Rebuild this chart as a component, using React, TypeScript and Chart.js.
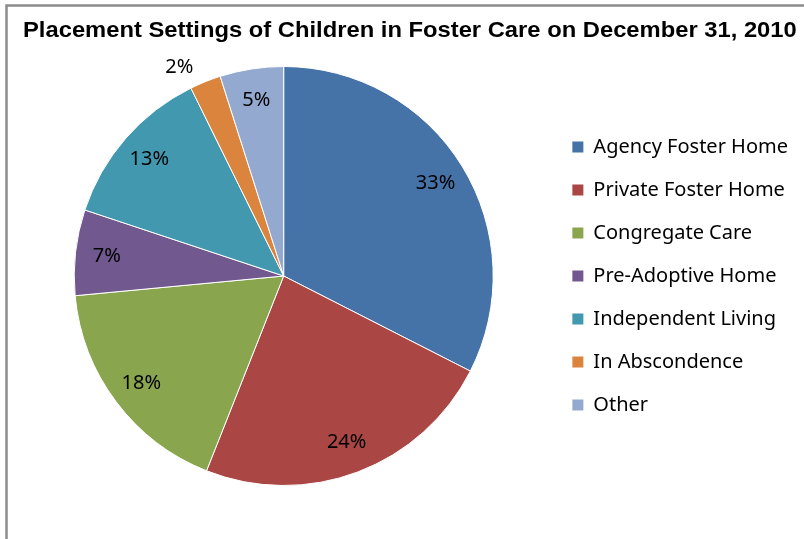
import React, { useEffect, useRef } from "react";
import { Chart, registerables, PieController } from "chart.js";

Chart.register(...registerables);

const TITLE = "Placement Settings of Children in Foster Care on December 31, 2010";
const categories = [
  "Agency Foster Home",
  "Private Foster Home",
  "Congregate Care",
  "Pre-Adoptive Home",
  "Independent Living",
  "In Abscondence",
  "Other",
];
const shares = [32.5, 23.5, 17.5, 6.6, 12.6, 2.4, 4.9];
const shareLabels = ["33%", "24%", "18%", "7%", "13%", "2%", "5%"];
const colors = ["#4572A7", "#AA4643", "#89A54E", "#71588F", "#4198AF", "#DB843D", "#93A9CF"];

const FONT = "'Noto Sans', 'Open Sans', sans-serif";

const frameAndTitle = {
  id: "frameAndTitle",
  beforeDraw(chart: any) {
    const ctx = chart.ctx;
    ctx.save();
    ctx.fillStyle = "#ffffff";
    ctx.fillRect(0, 0, chart.width, chart.height);
    ctx.strokeStyle = "#8c8c8c";
    ctx.lineWidth = 2.5;
    ctx.strokeRect(6.5, 5.5, 1200, 1200);
    ctx.restore();
  },
  afterDraw(chart: any) {
    const ctx = chart.ctx;
    ctx.save();
    ctx.font = "bold 22px 'Liberation Sans', Arial, sans-serif";
    ctx.fillStyle = "#000000";
    ctx.textBaseline = "alphabetic";
    ctx.textAlign = "left";
    ctx.translate(23, 37);
    ctx.scale(1.08, 1);
    ctx.fillText(TITLE, 0, 0);
    ctx.restore();
  },
};

const sliceLabels = {
  id: "sliceLabels",
  afterDatasetsDraw(chart: any) {
    const ctx = chart.ctx;
    const meta = chart.getDatasetMeta(0);
    ctx.save();
    ctx.font = `20px ${FONT}`;
    ctx.fillStyle = "#000000";
    meta.data.forEach((arc: any, i: number) => {
      const p = arc.getProps(["x", "y", "startAngle", "endAngle", "outerRadius"], true);
      const mid = (p.startAngle + p.endAngle) / 2;
      const value = shares[i];
      if (value < 3) {
        const r = p.outerRadius + 16;
        const x = p.x + Math.cos(mid) * r - 6;
        const y = p.y + Math.sin(mid) * r;
        ctx.textAlign = x < p.x ? "right" : "left";
        ctx.textBaseline = "middle";
        ctx.fillText(shareLabels[i], x, y);
      } else {
        const r = p.outerRadius * 0.85;
        ctx.textAlign = "center";
        ctx.textBaseline = "middle";
        ctx.fillText(shareLabels[i], p.x + Math.cos(mid) * r, p.y + Math.sin(mid) * r);
      }
    });
    ctx.restore();
  },
};

export default function App() {
  const ref = useRef<HTMLCanvasElement | null>(null);

  useEffect(() => {
    if (!ref.current) return;
    const baseGen = (PieController as any).overrides.plugins.legend.labels.generateLabels;
    const chart = new Chart(ref.current, {
      type: "pie",
      data: {
        labels: categories,
        datasets: [
          {
            data: shares,
            backgroundColor: colors,
            borderColor: "#ffffff",
            borderWidth: 1,
          },
        ],
      },
      options: {
        responsive: false,
        animation: false,
        layout: { padding: { top: 66, bottom: 53, left: 18, right: 6 } },
        plugins: {
          title: { display: false },
          tooltip: { enabled: false },
          legend: {
            position: "right",
            labels: {
              boxWidth: 11,
              boxHeight: 11,
              padding: 23,
              color: "#000000",
              font: { family: FONT, size: 20 },
              generateLabels(c: any) {
                const items = baseGen(c);
                return items.map((it: any) => ({ ...it, lineWidth: 0, strokeStyle: it.fillStyle }));
              },
            },
          },
        },
      },
      plugins: [frameAndTitle, sliceLabels],
    } as any);
    return () => chart.destroy();
  }, []);

  return (
    <div style={{ position: "absolute", left: 0, top: 0, width: 804, height: 539 }}>
      <canvas ref={ref} width={804} height={539} style={{ display: "block" }} />
    </div>
  );
}
